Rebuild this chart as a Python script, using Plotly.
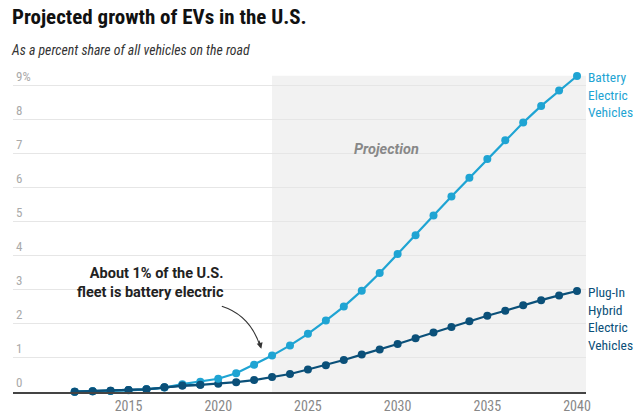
import plotly.graph_objects as go

years = list(range(2012, 2041))
bev = [0.01, 0.02, 0.03, 0.05, 0.08, 0.13, 0.23, 0.30, 0.39, 0.55, 0.80, 1.07,
       1.37, 1.71, 2.10, 2.51, 2.98, 3.50, 4.06, 4.61, 5.19, 5.75, 6.30, 6.85,
       7.40, 7.92, 8.41, 8.86, 9.29]
phev = [0.01, 0.02, 0.04, 0.06, 0.08, 0.14, 0.19, 0.21, 0.24, 0.29, 0.35, 0.44,
        0.53, 0.66, 0.79, 0.94, 1.10, 1.25, 1.41, 1.58, 1.75, 1.91, 2.08, 2.24,
        2.39, 2.55, 2.70, 2.84, 2.97]
ytick_vals = [0, 1, 2, 3, 4, 5, 6, 7, 8, 9]
ytick_text = ["0", "1", "2", "3", "4", "5", "6", "7", "8", "9%"]
xtick_vals = [2015, 2020, 2025, 2030, 2035, 2040]
projection_start = 2023
bev_label = ["Battery", "Electric", "Vehicles"]
phev_label = ["Plug-In", "Hybrid", "Electric", "Vehicles"]
note_lines = ["About 1% of the U.S.", "fleet is battery electric"]

BEV_C = "#1fa4d3"
PHEV_C = "#0b5079"
FONT = "Roboto Condensed, Liberation Sans Narrow, DejaVu Sans Condensed, Roboto"
FONT_R = "Roboto"

fig = go.Figure()
fig.add_trace(go.Scatter(x=years, y=phev, mode="lines+markers",
                         line=dict(color=PHEV_C, width=2.2),
                         marker=dict(color=PHEV_C, size=8),
                         cliponaxis=False, name="PHEV", showlegend=False))
fig.add_trace(go.Scatter(x=years, y=bev, mode="lines+markers",
                         line=dict(color=BEV_C, width=2.2),
                         marker=dict(color=BEV_C, size=8),
                         cliponaxis=False, name="BEV", showlegend=False))
fig.add_trace(go.Scatter(x=years[:8], y=phev[:8], mode="lines+markers",
                         line=dict(color=PHEV_C, width=2.2),
                         marker=dict(color=PHEV_C, size=8),
                         cliponaxis=False, showlegend=False, hoverinfo="skip"))

fig.add_shape(type="rect", xref="x", yref="y", x0=projection_start, x1=2040.5,
              y0=0, y1=9.3, fillcolor="#f2f2f2", line=dict(width=0), layer="below")

# curved arrow
fig.add_shape(type="path", xref="x", yref="y",
              path="M 2020.2,2.52 Q 2021.8,2.25 2022.35,1.32",
              line=dict(color="#333", width=1.1))
fig.add_annotation(x=2022.4, y=1.27, ax=2022.25, ay=1.55, xref="x", yref="y",
                   axref="x", ayref="y", text="", showarrow=True,
                   arrowhead=2, arrowsize=1.1, arrowwidth=1.1, arrowcolor="#333")

fig.add_annotation(x=2020.45, y=3.44, xref="x", yref="y", xanchor="right",
                   yanchor="middle", yshift=-8.5, align="right",
                   text="<b>" + "<br>".join(note_lines) + "</b>", showarrow=False,
                   font=dict(family=FONT_R, size=14.5, color="#222"))

fig.add_annotation(x=2029.4, y=7.12, xref="x", yref="y", text="<b><i>Projection</i></b>",
                   showarrow=False, font=dict(family=FONT_R, size=14.5, color="#888"))

fig.add_annotation(x=1, y=bev[-1], xref="paper", yref="y", xanchor="left",
                   yanchor="top", xshift=0, yshift=9, align="left",
                   text="<br>".join(bev_label), showarrow=False,
                   font=dict(family=FONT, size=13.5, color=BEV_C))
fig.add_annotation(x=1, y=phev[-1], xref="paper", yref="y", xanchor="left",
                   yanchor="top", xshift=0, yshift=9, align="left",
                   text="<br>".join(phev_label), showarrow=False,
                   font=dict(family=FONT, size=13.5, color=PHEV_C))

fig.add_annotation(x=0, y=1, xref="paper", yref="paper", xanchor="left", yanchor="top",
                   showarrow=False, xshift=-3, yshift=57,
                   text="<b>Projected growth of EVs in the U.S.</b>",
                   font=dict(family=FONT, size=21, color="#111"))
fig.add_annotation(x=0, y=1, xref="paper", yref="paper", xanchor="left", yanchor="top",
                   showarrow=False, xshift=-4, yshift=20,
                   text="<i>As a percent share of all vehicles on the road</i>",
                   font=dict(family=FONT, size=13.8, color="#333"))

fig.update_layout(
    width=640, height=420,
    margin=dict(l=13, r=54, t=60, b=28, autoexpand=False),
    paper_bgcolor="white", plot_bgcolor="white",
    font=dict(family=FONT),
    xaxis=dict(range=[2008.56, 2040.5], tickvals=xtick_vals, showgrid=False,
               zeroline=False, showline=True, linecolor="#444", linewidth=1.5,
               ticks="", automargin=False, tickfont=dict(size=14, color="#888")),
    yaxis=dict(range=[0, 9.76], tickvals=ytick_vals, ticktext=ytick_text,
               ticklabelposition="inside top", showgrid=True, gridcolor="#e6e6e6",
               gridwidth=1, zeroline=False, showline=False, ticks="", automargin=False,
               tickfont=dict(size=13, color="#aaa")),
)

fig.write_html("out.html", config={"displayModeBar": False},
               post_script="document.body.style.margin='0px';")
